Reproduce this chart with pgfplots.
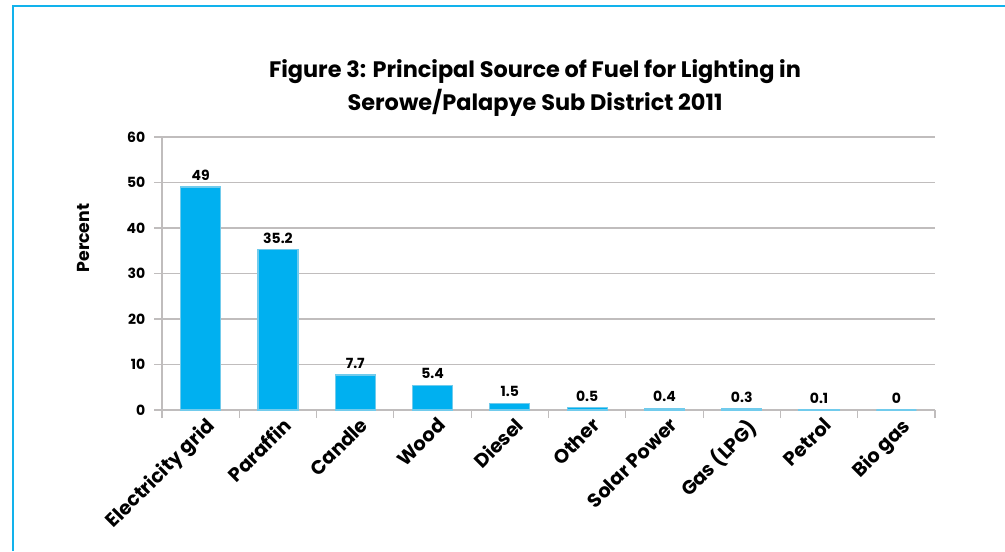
\documentclass[border=0pt]{standalone}
\usepackage{fontspec}
\setmainfont{Poppins}
\usepackage{pgfplots}
\pgfplotsset{compat=1.18}
\definecolor{barblue}{HTML}{00B0F0}
\definecolor{gridgray}{HTML}{C0BDBD}
\definecolor{framecyan}{HTML}{12B2EC}
\begin{document}
\begin{tikzpicture}[x=0.75pt,y=0.75pt]
\useasboundingbox (0,0) rectangle (1005,551);
\draw[framecyan, line width=1.1pt] (13,0) -- (13,545) -- (1005,545);
\node[font=\bfseries\fontsize{16.8}{24.75}\selectfont, align=center] at (535,463)
  {Figure 3: Principal Source of Fuel for Lighting in\\Serowe/Palapye Sub District 2011};
\begin{axis}[
    at={(121.5pt,105.75pt)}, anchor=south west,
    scale only axis,
    width=579.75pt, height=204.75pt,
    ybar, bar width=30pt,
    xmin=0.5, xmax=10.5,
    ymin=0, ymax=60,
    ytick={0,10,...,60},
    xtick={0.5,1.5,...,10.5},
    x tick label as interval,
    xticklabels={Electricity grid,Paraffin,Candle,Wood,Diesel,Other,Solar Power,Gas (LPG),Petrol,Bio gas},
    xticklabel style={rotate=45, anchor=north east, font=\bfseries\fontsize{14.5}{16}\selectfont, inner sep=0pt, xshift=3pt, yshift=-1pt},
    yticklabel style={font=\bfseries\fontsize{10.5}{12}\selectfont, xshift=-3pt},
    /pgf/number format/assume math mode=true,
    axis x line*=bottom, axis y line*=left,
    axis line style={gridgray, line width=0.8pt, -},
    ymajorgrids, grid style={gridgray, line width=0.8pt},
    tick align=outside, major tick length=6pt,
    tick style={gridgray, line width=0.8pt},
    ylabel={Percent},
    ylabel style={at={(axis description cs:-0.102,0.63)}, anchor=center, font=\bfseries\fontsize{13}{15}\selectfont},
    nodes near coords,
    point meta=explicit symbolic,
    every node near coord/.append style={font=\bfseries\fontsize{10.5}{12}\selectfont, text=black, yshift=1pt},
]
\addplot[fill=barblue, draw=barblue!85!gray!60, line width=0.9pt] table[meta=lbl] {
x y lbl
1 49 49
2 35.2 35.2
3 7.7 7.7
4 5.4 5.4
5 1.5 1.5
6 0.5 0.5
7 0.4 0.4
8 0.3 0.3
9 0.1 0.1
10 0 0
};
\end{axis}
\end{tikzpicture}
\end{document}
